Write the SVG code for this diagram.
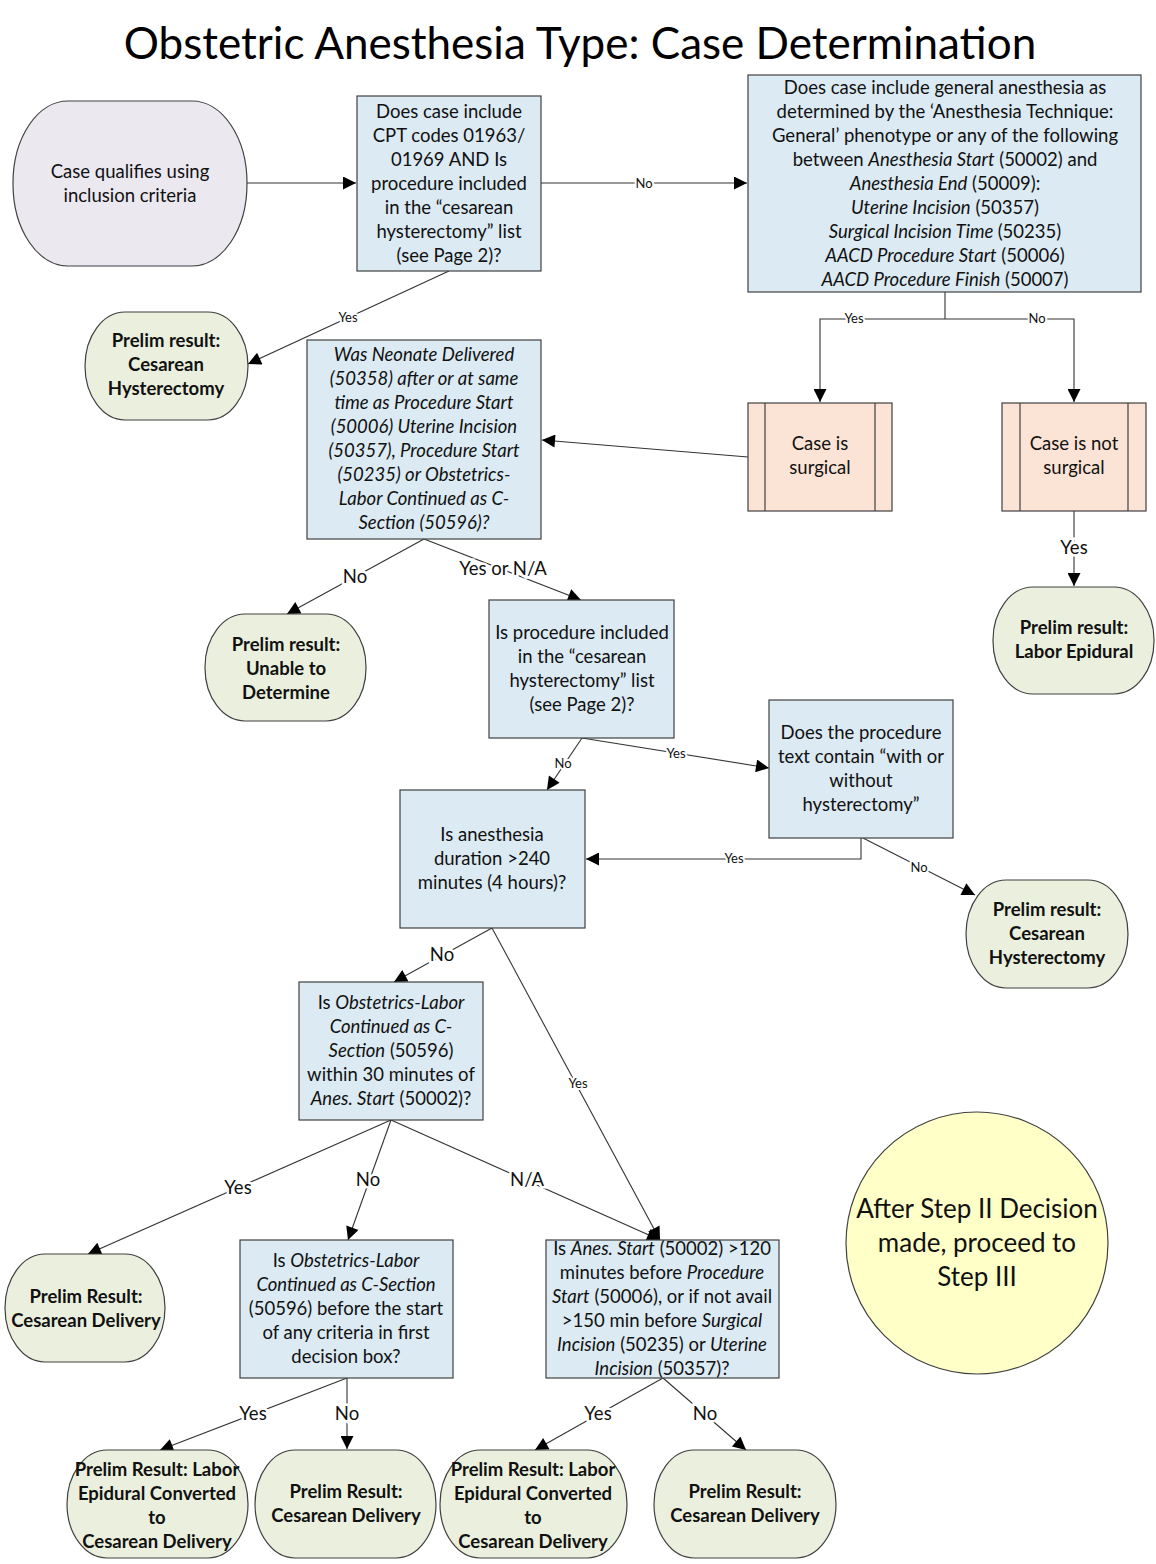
<svg xmlns="http://www.w3.org/2000/svg" width="1156" height="1564" viewBox="0 0 1156 1564">
<style>
.t{font-family:Lato,"Open Sans","Liberation Sans",sans-serif;font-size:18.5px;fill:#111;text-anchor:middle}
.b{font-weight:bold}
.i{font-style:italic}
.box{fill:#dbeaf3;stroke:#404040;stroke-width:1.2}
.term{fill:#ebf0de;stroke:#404040;stroke-width:1.2}
.proc{fill:#fbe4d5;stroke:#404040;stroke-width:1.2}
.c{stroke:#333;stroke-width:1.1;fill:none}
.ca{stroke:#333;stroke-width:1.1;fill:none;marker-end:url(#ah)}
.ls{font-family:Lato,"Open Sans","Liberation Sans",sans-serif;font-size:13px;fill:#111;text-anchor:middle;stroke:#fff;stroke-width:4;paint-order:stroke}
.ll{font-family:Lato,"Open Sans","Liberation Sans",sans-serif;font-size:18.5px;fill:#111;text-anchor:middle;stroke:#fff;stroke-width:5;paint-order:stroke}
.big{font-family:Lato,"Open Sans","Liberation Sans",sans-serif;font-size:26px;fill:#111;text-anchor:middle}
</style>
<defs>
<marker id="ah" viewBox="0 0 10 10" refX="10" refY="5" markerWidth="19" markerHeight="13" markerUnits="userSpaceOnUse" orient="auto">
<path d="M0,0 L10,5 L0,10 z" fill="#000"/>
</marker>
</defs>
<rect width="1156" height="1564" fill="#fff"/>
<text x="580" y="59" font-family="Lato,'Open Sans','Liberation Sans',sans-serif" font-size="44" text-anchor="middle" fill="#000">Obstetric Anesthesia Type: Case Determination</text>

<g id="connectors">
<line class="ca" x1="247" y1="183" x2="356" y2="183"/>
<line class="ca" x1="541" y1="183" x2="747" y2="183"/>
<text class="ls" x="644" y="188">No</text>
<polyline class="c" points="945,292 945,319"/>
<polyline class="ca" points="945,319 820,319 820,402"/>
<polyline class="ca" points="945,319 1074,319 1074,402"/>
<text class="ls" x="854" y="323">Yes</text>
<text class="ls" x="1037" y="323">No</text>
<line class="ca" x1="1074" y1="511" x2="1074" y2="586"/>
<text class="ll" x="1074" y="554">Yes</text>
<line class="ca" x1="748" y1="457" x2="542" y2="440"/>
<line class="ca" x1="449" y1="271" x2="248" y2="364"/>
<text class="ls" x="348" y="322">Yes</text>
<line class="ca" x1="424" y1="539" x2="287" y2="614"/>
<text class="ll" x="355" y="583">No</text>
<line class="ca" x1="424" y1="539" x2="581" y2="600"/>
<text class="ll" x="503" y="575">Yes or N/A</text>
<line class="ca" x1="582" y1="738" x2="547" y2="790"/>
<text class="ls" x="563" y="768">No</text>
<line class="ca" x1="582" y1="738" x2="769" y2="768"/>
<text class="ls" x="676" y="758">Yes</text>
<polyline class="ca" points="861,838 861,859 586,859"/>
<text class="ls" x="734" y="863">Yes</text>
<line class="ca" x1="863" y1="838" x2="975" y2="895"/>
<text class="ls" x="919" y="872">No</text>
<line class="ca" x1="492" y1="928" x2="394" y2="982"/>
<text class="ll" x="442" y="961">No</text>
<line class="ca" x1="492" y1="928" x2="660" y2="1240"/>
<text class="ls" x="578" y="1088">Yes</text>
<line class="ca" x1="391" y1="1120" x2="88" y2="1254"/>
<text class="ll" x="238" y="1194">Yes</text>
<line class="ca" x1="391" y1="1120" x2="348" y2="1240"/>
<text class="ll" x="368" y="1186">No</text>
<line class="ca" x1="391" y1="1120" x2="660" y2="1240"/>
<text class="ll" x="527" y="1186">N/A</text>
<line class="ca" x1="347" y1="1378" x2="160" y2="1450"/>
<text class="ll" x="253" y="1420">Yes</text>
<line class="ca" x1="347" y1="1378" x2="347" y2="1449"/>
<text class="ll" x="347" y="1420">No</text>
<line class="ca" x1="663" y1="1378" x2="535" y2="1450"/>
<text class="ll" x="598" y="1420">Yes</text>
<line class="ca" x1="663" y1="1378" x2="746" y2="1450"/>
<text class="ll" x="705" y="1420">No</text>
</g>

<g id="start">
<rect x="13" y="101" width="234" height="165" rx="55" ry="82" fill="#ebe8f0" stroke="#404040" stroke-width="1.2"/>
<text class="t" x="130" y="178">Case qualifies using</text>
<text class="t" x="130" y="202">inclusion criteria</text>
</g>

<g id="q-cpt">
<rect class="box" x="357" y="96" width="184" height="175"/>
<text class="t" x="449" y="118">Does case include</text>
<text class="t" x="449" y="142">CPT codes 01963/</text>
<text class="t" x="449" y="166">01969  AND Is</text>
<text class="t" x="449" y="190">procedure included</text>
<text class="t" x="449" y="214">in the “cesarean</text>
<text class="t" x="449" y="238">hysterectomy” list</text>
<text class="t" x="449" y="262">(see Page 2)?</text>
</g>

<g id="q-general">
<rect class="box" x="748" y="75" width="393" height="217"/>
<text class="t" x="945" y="94">Does case include general anesthesia as</text>
<text class="t" x="945" y="118">determined by the ‘Anesthesia Technique:</text>
<text class="t" x="945" y="142">General’ phenotype or any of the following</text>
<text class="t" x="945" y="166">between <tspan class="i">Anesthesia Start</tspan> (50002)  and</text>
<text class="t" x="945" y="190"><tspan class="i">Anesthesia End</tspan> (50009):</text>
<text class="t" x="945" y="214"><tspan class="i">Uterine Incision</tspan> (50357)</text>
<text class="t" x="945" y="238"><tspan class="i">Surgical Incision Time </tspan> (50235)</text>
<text class="t" x="945" y="262"><tspan class="i">AACD Procedure Start</tspan> (50006)</text>
<text class="t" x="945" y="286"><tspan class="i">AACD Procedure Finish</tspan> (50007)</text>
</g>

<g id="surgical">
<rect class="proc" x="748" y="403" width="144" height="108"/>
<line x1="765" y1="403" x2="765" y2="511" stroke="#404040" stroke-width="1.2"/>
<line x1="875" y1="403" x2="875" y2="511" stroke="#404040" stroke-width="1.2"/>
<text class="t" x="820" y="450">Case is</text>
<text class="t" x="820" y="474">surgical</text>
</g>

<g id="not-surgical">
<rect class="proc" x="1002" y="403" width="144" height="108"/>
<line x1="1020" y1="403" x2="1020" y2="511" stroke="#404040" stroke-width="1.2"/>
<line x1="1128" y1="403" x2="1128" y2="511" stroke="#404040" stroke-width="1.2"/>
<text class="t" x="1074" y="450">Case is not</text>
<text class="t" x="1074" y="474">surgical</text>
</g>

<g id="r-labor-epidural">
<rect class="term" x="993" y="587" width="161" height="107" rx="40" ry="53"/>
<text class="t b" x="1074" y="634">Prelim result:</text>
<text class="t b" x="1074" y="658">Labor Epidural</text>
</g>

<g id="r-ces-hyst-1">
<rect class="term" x="85" y="312" width="163" height="108" rx="40" ry="54"/>
<text class="t b" x="166" y="347">Prelim result:</text>
<text class="t b" x="166" y="371">Cesarean</text>
<text class="t b" x="166" y="395">Hysterectomy</text>
</g>

<g id="q-neonate">
<rect class="box" x="307" y="340" width="234" height="199"/>
<text class="t i" x="424" y="361">Was Neonate Delivered</text>
<text class="t i" x="424" y="385">(50358) after or at same</text>
<text class="t i" x="424" y="409">time as Procedure Start</text>
<text class="t i" x="424" y="433">(50006) Uterine Incision</text>
<text class="t i" x="424" y="457">(50357), Procedure Start</text>
<text class="t i" x="424" y="481">(50235) or Obstetrics-</text>
<text class="t i" x="424" y="505">Labor Continued as C-</text>
<text class="t i" x="424" y="529">Section (50596)?</text>
</g>

<g id="r-unable">
<rect class="term" x="205" y="614" width="161" height="107" rx="40" ry="53"/>
<text class="t b" x="286" y="651">Prelim result:</text>
<text class="t b" x="286" y="675">Unable to</text>
<text class="t b" x="286" y="699">Determine</text>
</g>

<g id="q-list">
<rect class="box" x="489" y="600" width="185" height="138"/>
<text class="t" x="582" y="639">Is procedure included</text>
<text class="t" x="582" y="663">in the “cesarean</text>
<text class="t" x="582" y="687">hysterectomy” list</text>
<text class="t" x="582" y="711">(see Page 2)?</text>
</g>

<g id="q-text">
<rect class="box" x="769" y="700" width="184" height="138"/>
<text class="t" x="861" y="739">Does the procedure</text>
<text class="t" x="861" y="763">text contain “with or</text>
<text class="t" x="861" y="787">without</text>
<text class="t" x="861" y="811">hysterectomy”</text>
</g>

<g id="r-ces-hyst-2">
<rect class="term" x="966" y="880" width="162" height="108" rx="40" ry="54"/>
<text class="t b" x="1047" y="916">Prelim result:</text>
<text class="t b" x="1047" y="940">Cesarean</text>
<text class="t b" x="1047" y="964">Hysterectomy</text>
</g>

<g id="q-duration">
<rect class="box" x="400" y="790" width="185" height="138"/>
<text class="t" x="492" y="841">Is anesthesia</text>
<text class="t" x="492" y="865">duration &gt;240</text>
<text class="t" x="492" y="889">minutes (4 hours)?</text>
</g>

<g id="q-30min">
<rect class="box" x="299" y="982" width="184" height="138"/>
<text class="t" x="391" y="1009">Is <tspan class="i">Obstetrics-Labor</tspan></text>
<text class="t i" x="391" y="1033">Continued as C-</text>
<text class="t" x="391" y="1057"><tspan class="i">Section</tspan> (50596)</text>
<text class="t" x="391" y="1081">within 30 minutes of</text>
<text class="t" x="391" y="1105"><tspan class="i">Anes. Start</tspan> (50002)?</text>
</g>

<g id="r-ces-del-1">
<rect class="term" x="5" y="1254" width="160" height="108" rx="40" ry="54"/>
<text class="t b" x="86" y="1303">Prelim Result:</text>
<text class="t b" x="86" y="1327">Cesarean Delivery</text>
</g>

<g id="q-before">
<rect class="box" x="240" y="1240" width="213" height="138"/>
<text class="t" x="346" y="1267">Is <tspan class="i">Obstetrics-Labor</tspan></text>
<text class="t i" x="346" y="1291">Continued as C-Section</text>
<text class="t" x="346" y="1315">(50596) before the start</text>
<text class="t" x="346" y="1339">of any criteria in first</text>
<text class="t" x="346" y="1363">decision box?</text>
</g>

<g id="q-anes-start">
<rect class="box" x="546" y="1240" width="233" height="138"/>
<text class="t" x="662" y="1255">Is <tspan class="i">Anes. Start</tspan> (50002) &gt;120</text>
<text class="t" x="662" y="1279">minutes  before <tspan class="i">Procedure</tspan></text>
<text class="t" x="662" y="1303"><tspan class="i">Start</tspan> (50006), or if not avail</text>
<text class="t" x="662" y="1327">&gt;150 min before <tspan class="i">Surgical</tspan></text>
<text class="t" x="662" y="1351"><tspan class="i">Incision</tspan> (50235)  or <tspan class="i">Uterine</tspan></text>
<text class="t" x="662" y="1375"><tspan class="i">Incision</tspan> (50357)?</text>
</g>

<g id="r-conv-1">
<rect class="term" x="67" y="1450" width="181" height="108" rx="40" ry="54"/>
<text class="t b" x="157" y="1476">Prelim Result: Labor</text>
<text class="t b" x="157" y="1500">Epidural Converted</text>
<text class="t b" x="157" y="1524">to</text>
<text class="t b" x="157" y="1548">Cesarean Delivery</text>
</g>

<g id="r-ces-del-2">
<rect class="term" x="255" y="1450" width="181" height="108" rx="40" ry="54"/>
<text class="t b" x="346" y="1498">Prelim Result:</text>
<text class="t b" x="346" y="1522">Cesarean Delivery</text>
</g>

<g id="r-conv-2">
<rect class="term" x="440" y="1450" width="187" height="108" rx="40" ry="54"/>
<text class="t b" x="533" y="1476">Prelim Result: Labor</text>
<text class="t b" x="533" y="1500">Epidural Converted</text>
<text class="t b" x="533" y="1524">to</text>
<text class="t b" x="533" y="1548">Cesarean Delivery</text>
</g>

<g id="r-ces-del-3">
<rect class="term" x="654" y="1450" width="182" height="108" rx="40" ry="54"/>
<text class="t b" x="745" y="1498">Prelim Result:</text>
<text class="t b" x="745" y="1522">Cesarean Delivery</text>
</g>

<g id="note">
<circle cx="977" cy="1243" r="131" fill="#ffffc8" stroke="#404040" stroke-width="1.2"/>
<text class="big" x="977" y="1218">After Step II Decision</text>
<text class="big" x="977" y="1252">made, proceed to</text>
<text class="big" x="977" y="1286">Step III</text>
</g>
</svg>
